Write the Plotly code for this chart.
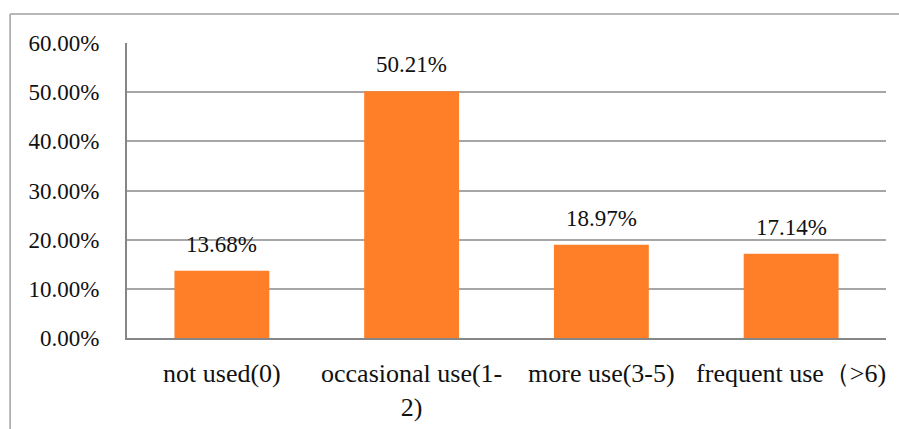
import plotly.graph_objects as go

# Usage frequency categories and their shares (percent)
categories = ["not used(0)", "occasional use(1-<br>2)", "more use(3-5)", "frequent use（>6)"]
shares = [13.68, 50.21, 18.97, 17.14]
y_ticks = [0, 10, 20, 30, 40, 50, 60]
y_tick_labels = [f"{v:.2f}%" for v in y_ticks]

FONT = "Liberation Serif"
BAR_COLOR = "#FE7F28"
GRID_COLOR = "#A6A6A6"
AXIS_COLOR = "#868686"
FRAME_COLOR = "#A0A0A0"
TEXT_COLOR = "#111111"

fig = go.Figure(
    go.Bar(
        x=categories,
        y=shares,
        marker=dict(color=BAR_COLOR, line=dict(width=0)),
        width=0.5,
        hoverinfo="skip",
    )
)

# value labels above each bar
for cat, val in zip(categories, shares):
    fig.add_annotation(
        x=cat, y=val, text=f"{val:.2f}%", showarrow=False,
        yanchor="bottom", yshift=12,
        font=dict(family=FONT, size=23, color=TEXT_COLOR),
    )

# outer frame (top and left edges)
fig.add_shape(type="line", xref="paper", yref="paper",
              x0=-0.154, x1=1.02, y0=1.0983, y1=1.0983,
              line=dict(color=FRAME_COLOR, width=1.5))
fig.add_shape(type="line", xref="paper", yref="paper",
              x0=-0.154, x1=-0.154, y0=1.0983, y1=-0.4,
              line=dict(color=FRAME_COLOR, width=1.5))

fig.update_layout(
    width=899, height=429,
    margin=dict(l=127, r=13, t=43, b=91, autoexpand=False),
    paper_bgcolor="white", plot_bgcolor="white",
    showlegend=False,
    font=dict(family=FONT, size=23, color=TEXT_COLOR),
    xaxis=dict(
        showline=True, linecolor=AXIS_COLOR, linewidth=2,
        showgrid=False, ticks="", tickfont=dict(size=26),
        ticklabelstandoff=11, automargin=False,
    ),
    yaxis=dict(
        range=[0, 60], tickvals=y_ticks, ticktext=y_tick_labels,
        showline=True, linecolor=AXIS_COLOR, linewidth=2,
        showgrid=True, gridcolor=GRID_COLOR, gridwidth=1.5,
        zeroline=False, ticks="", tickfont=dict(size=23),
        ticklabelstandoff=21, automargin=False,
    ),
)

fig.write_html("out.html")
